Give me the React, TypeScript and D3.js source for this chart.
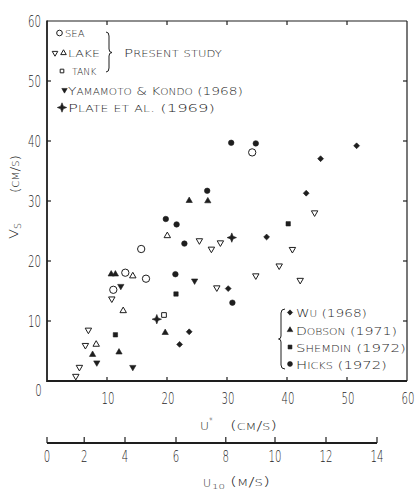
import React, { useLayoutEffect, useRef } from 'react';
import * as d3 from 'd3';

const W = 416;
const H = 490;
const FONT = "'DejaVu Sans', sans-serif";
const INK = '#1e1e1e';
const TXT_W = 200;

// ---- data: [u* (cm/s), Vs (cm/s)] ----
const seaPoints: [number, number][] = [[15.7, 22.0], [13.05, 18.05], [16.5, 17.05], [11.05, 15.2], [34.2, 38.1]];
const lakeDownPoints: [number, number][] = [
  [10.8, 13.7], [6.9, 8.5], [6.4, 5.95], [5.4, 2.3], [4.8, 0.8], [25.4, 23.4], [27.4, 22.0], [28.9, 23.05],
  [28.3, 15.55], [34.8, 17.55], [38.7, 19.2], [42.2, 16.8], [40.9, 21.95], [44.6, 28.05],
];
const lakeUpPoints: [number, number][] = [[14.3, 17.5], [12.7, 11.7], [8.2, 6.1], [20.05, 24.2]];
const tankPoints: [number, number][] = [[19.5, 11.0]];
const yamamotoPoints: [number, number][] = [[12.3, 15.8], [8.3, 3.05], [14.3, 2.3], [24.6, 16.7]];
const platePoints: [number, number][] = [[18.3, 10.3], [30.8, 23.9]];
const wuPoints: [number, number][] = [[30.2, 15.4], [23.7, 8.2], [22.1, 6.1], [51.6, 39.2], [45.6, 37.05], [43.2, 31.3], [36.6, 24.0]];
const dobsonPoints: [number, number][] = [[10.7, 17.8], [11.4, 17.8], [7.6, 4.4], [12.0, 4.8], [19.7, 8.05], [23.7, 30.05], [26.8, 30.0]];
const shemdinPoints: [number, number][] = [[11.4, 7.7], [21.5, 14.5], [40.2, 26.2]];
const hicksPoints: [number, number][] = [[30.7, 39.7], [34.8, 39.6], [26.7, 31.7], [19.8, 27.0], [21.6, 26.1], [22.9, 22.9], [21.4, 17.8], [30.9, 13.05]];

const xTicks = [10, 20, 30, 40, 50];
const xTickLabels = [10, 20, 30, 40, 50, 60];
const yTicks = [10, 20, 30, 40, 50];
const yTickLabels = [10, 20, 30, 40, 50, 60];
// second axis: U10 (m/s) tick values and the u* (cm/s) they correspond to
const u10Ticks = [0, 2, 4, 6, 8, 10, 12, 14];
const u10AsUstar = [0, 6.2, 13, 21.5, 29.8, 38, 46.5, 55];

// ---- scales ----
const x = d3.scaleLinear().domain([0, 60]).range([47, 407]);
const y = d3.scaleLinear().domain([0, 60]).range([381, 21]);
const xU10 = d3.scaleLinear().domain(u10Ticks).range(u10AsUstar.map((u) => x(u)));

// 4-pointed star symbol
const star4 = {
  draw(ctx: any, size: number) {
    const r = Math.sqrt(size);
    const i = r * 0.28;
    ctx.moveTo(0, -r);
    ctx.lineTo(i, -i);
    ctx.lineTo(r, 0);
    ctx.lineTo(i, i);
    ctx.lineTo(0, r);
    ctx.lineTo(-i, i);
    ctx.lineTo(-r, 0);
    ctx.lineTo(-i, -i);
    ctx.closePath();
  },
};

type Mk = { type: any; size: number; filled: boolean; rot?: number };
const MK = {
  sea: { type: d3.symbolCircle, size: 42, filled: false },
  lakeDown: { type: d3.symbolTriangle, size: 18, filled: false, rot: 180 },
  lakeUp: { type: d3.symbolTriangle, size: 18, filled: false },
  tank: { type: d3.symbolSquare, size: 22, filled: false },
  yamamoto: { type: d3.symbolTriangle, size: 17, filled: true, rot: 180 },
  plate: { type: star4, size: 22, filled: true },
  wu: { type: d3.symbolDiamond2, size: 22, filled: true },
  dobson: { type: d3.symbolTriangle, size: 17, filled: true },
  shemdin: { type: d3.symbolSquare, size: 19, filled: true },
  hicks: { type: d3.symbolCircle, size: 24, filled: true },
};

function Marker({ m, cx, cy, scale = 1 }: { m: Mk; cx: number; cy: number; scale?: number }) {
  const d = d3.symbol().type(m.type).size(m.size * scale)() as string;
  return (
    <path
      d={d}
      transform={`translate(${cx},${cy})${m.rot ? ` rotate(${m.rot})` : ''}`}
      fill={m.filled ? INK : '#fff'}
      stroke={INK}
      strokeWidth={m.filled ? 0.6 : 1}
    />
  );
}

function scRuns(text: string, big: number, small: number) {
  const runs: { t: string; s: number }[] = [];
  for (const ch of text) {
    const lower = ch >= 'a' && ch <= 'z';
    const s = lower ? small : big;
    const t = lower ? ch.toUpperCase() : ch;
    if (runs.length && runs[runs.length - 1].s === s) runs[runs.length - 1].t += t;
    else runs.push({ t, s });
  }
  return runs.map((r, i) => (
    <tspan key={i} fontSize={r.s}>
      {r.t}
    </tspan>
  ));
}

function FitText({ x: tx, y: ty, width, anchor = 'start', rotate = 0, size = 10, children }: any) {
  const ref = useRef<SVGTextElement>(null);
  useLayoutEffect(() => {
    const el = ref.current;
    if (!el) return;
    el.removeAttribute('transform');
    const w = el.getBBox().width;
    if (w > 0) el.setAttribute('transform', `scale(${(width / w).toFixed(4)},1)`);
  });
  return (
    <g transform={`translate(${tx},${ty})${rotate ? ` rotate(${rotate})` : ''}`}>
      <text
        ref={ref}
        textAnchor={anchor}
        fontSize={size}
        fontFamily={FONT}
        fontWeight={TXT_W}
        fill={INK}
        style={{ whiteSpace: 'pre' }}
      >
        {children}
      </text>
    </g>
  );
}

function Num({ tx, ty, anchor = 'middle', children }: any) {
  return (
    <text
      transform={`translate(${tx},${ty}) scale(0.68,1)`}
      textAnchor={anchor}
      fontSize={15}
      fontFamily={FONT}
      fontWeight={TXT_W}
      fill={INK}
    >
      {children}
    </text>
  );
}

const series: { pts: [number, number][]; m: Mk }[] = [
  { pts: seaPoints, m: MK.sea },
  { pts: lakeDownPoints, m: MK.lakeDown },
  { pts: lakeUpPoints, m: MK.lakeUp },
  { pts: tankPoints, m: MK.tank },
  { pts: yamamotoPoints, m: MK.yamamoto },
  { pts: wuPoints, m: MK.wu },
  { pts: dobsonPoints, m: MK.dobson },
  { pts: shemdinPoints, m: MK.shemdin },
  { pts: hicksPoints, m: MK.hicks },
  { pts: platePoints, m: MK.plate },
];

export default function App() {
  const [x0, x1] = x.range();
  const [yb, yt] = y.range();
  const tl = 4;
  return (
    <svg width={W} height={H} viewBox={`0 0 ${W} ${H}`} style={{ position: 'absolute', left: 0, top: 0, background: '#fff' }}>
      <rect width={W} height={H} fill="#fff" />
      {/* frame */}
      <line x1={x0} y1={yt} x2={x1} y2={yt} stroke={INK} strokeWidth={1.2} />
      <line x1={x1} y1={yt} x2={x1} y2={yb} stroke={INK} strokeWidth={1.2} />
      <line x1={x0} y1={yt - 0.5} x2={x0} y2={yb + 1} stroke={INK} strokeWidth={1.8} />
      <line x1={x0} y1={yb} x2={x1} y2={yb} stroke={INK} strokeWidth={1.8} />
      {/* ticks */}
      {xTicks.map((t) => (
        <g key={'xt' + t}>
          <line x1={x(t)} x2={x(t)} y1={yb} y2={yb - tl} stroke={INK} strokeWidth={1.2} />
          <line x1={x(t)} x2={x(t)} y1={yt} y2={yt + tl} stroke={INK} strokeWidth={1.2} />
        </g>
      ))}
      {yTicks.map((t) => (
        <g key={'yt' + t}>
          <line x1={x0} x2={x0 + tl} y1={y(t)} y2={y(t)} stroke={INK} strokeWidth={1.2} />
          <line x1={x1} x2={x1 - tl} y1={y(t)} y2={y(t)} stroke={INK} strokeWidth={1.2} />
        </g>
      ))}
      {/* tick labels */}
      {yTickLabels.map((t) => (
        <Num key={'yl' + t} tx={41} ty={y(t) + 5.5} anchor="end">
          {t}
        </Num>
      ))}
      <Num tx={38.5} ty={396}>0</Num>
      {xTickLabels.map((t) => (
        <Num key={'xl' + t} tx={x(t) + 1} ty={404}>
          {t}
        </Num>
      ))}
      {/* u* axis title */}
      <FitText x={200} y={430} width={9} size={11}>U</FitText>
      <FitText x={209} y={424} width={4} size={9}>*</FitText>
      <FitText x={230} y={430} width={47} size={13}>
        {scRuns('(cm/s)', 13, 9.5)}
      </FitText>
      {/* second axis U10 */}
      <line x1={xU10(0)} x2={xU10(14)} y1={443} y2={443} stroke={INK} strokeWidth={1.8} />
      {u10Ticks.map((t) => (
        <g key={'u' + t}>
          <line x1={xU10(t)} x2={xU10(t)} y1={443} y2={437} stroke={INK} strokeWidth={1.2} />
          <Num tx={xU10(t)} ty={462}>
            {t}
          </Num>
        </g>
      ))}
      <FitText x={203} y={487} width={8} size={11}>U</FitText>
      <FitText x={212} y={488.5} width={13} size={7}>10</FitText>
      <FitText x={230} y={486} width={40} size={13}>
        {scRuns('(m/s)', 13, 9.5)}
      </FitText>
      {/* y axis title */}
      <FitText x={18} y={239} width={10} size={12} rotate={-90}>V</FitText>
      <FitText x={21} y={229} width={6} size={8} rotate={-90}>S</FitText>
      <FitText x={19} y={193} width={38} size={12} rotate={-90}>
        {scRuns('(cm/s)', 12, 9)}
      </FitText>

      {/* data */}
      {series.map((s, si) =>
        s.pts.map((p, i) => <Marker key={si + '-' + i} m={s.m} cx={x(p[0])} cy={y(p[1])} />)
      )}

      {/* top-left legend */}
      <Marker m={MK.sea} cx={59.5} cy={33} scale={0.6} />
      <FitText x={65} y={36.5} width={20} size={8.2}>SEA</FitText>
      <Marker m={MK.lakeDown} cx={55} cy={53} scale={0.75} />
      <Marker m={MK.lakeUp} cx={63.5} cy={53} scale={0.75} />
      <FitText x={68} y={56.5} width={32} size={8.2}>LAKE</FitText>
      <Marker m={MK.tank} cx={62} cy={71} scale={0.6} />
      <FitText x={72} y={75} width={25} size={8.2}>TANK</FitText>
      <path
        d="M106,32 Q109,32 109,36 L109,49 Q109,52.5 112,52.5 Q109,52.5 109,56 L109,68 Q109,72 106,72"
        fill="none"
        stroke={INK}
        strokeWidth={1}
      />
      <FitText x={124} y={56.5} width={98} size={10.5}>
        {scRuns('Present study', 10.5, 8)}
      </FitText>
      <Marker m={MK.yamamoto} cx={64.5} cy={90} scale={0.75} />
      <FitText x={68} y={94.5} width={175} size={10.5}>
        {scRuns('Yamamoto & Kondo (1968)', 10.5, 8)}
      </FitText>
      <Marker m={MK.plate} cx={62} cy={107.5} scale={1} />
      <FitText x={68} y={112} width={147} size={10.5}>
        {scRuns('Plate et al. (1969)', 10.5, 8)}
      </FitText>

      {/* bottom-right legend */}
      <path
        d="M285,309 Q281,309 281,313 L281,336 Q281,339 278.5,339 Q281,339 281,342 L281,365 Q281,369 285,369"
        fill="none"
        stroke={INK}
        strokeWidth={1}
      />
      <Marker m={MK.wu} cx={290} cy={312.5} scale={0.8} />
      <FitText x={296} y={317} width={71} size={10.5}>
        {scRuns('Wu (1968)', 10.5, 8)}
      </FitText>
      <Marker m={MK.dobson} cx={290} cy={330} scale={0.8} />
      <FitText x={296} y={334.5} width={101} size={10.5}>
        {scRuns('Dobson (1971)', 10.5, 8)}
      </FitText>
      <Marker m={MK.shemdin} cx={290} cy={347} scale={0.8} />
      <FitText x={296} y={351.5} width={110} size={10.5}>
        {scRuns('Shemdin (1972)', 10.5, 8)}
      </FitText>
      <Marker m={MK.hicks} cx={290} cy={364} scale={0.8} />
      <FitText x={296} y={368.5} width={91} size={10.5}>
        {scRuns('Hicks (1972)', 10.5, 8)}
      </FitText>
    </svg>
  );
}
